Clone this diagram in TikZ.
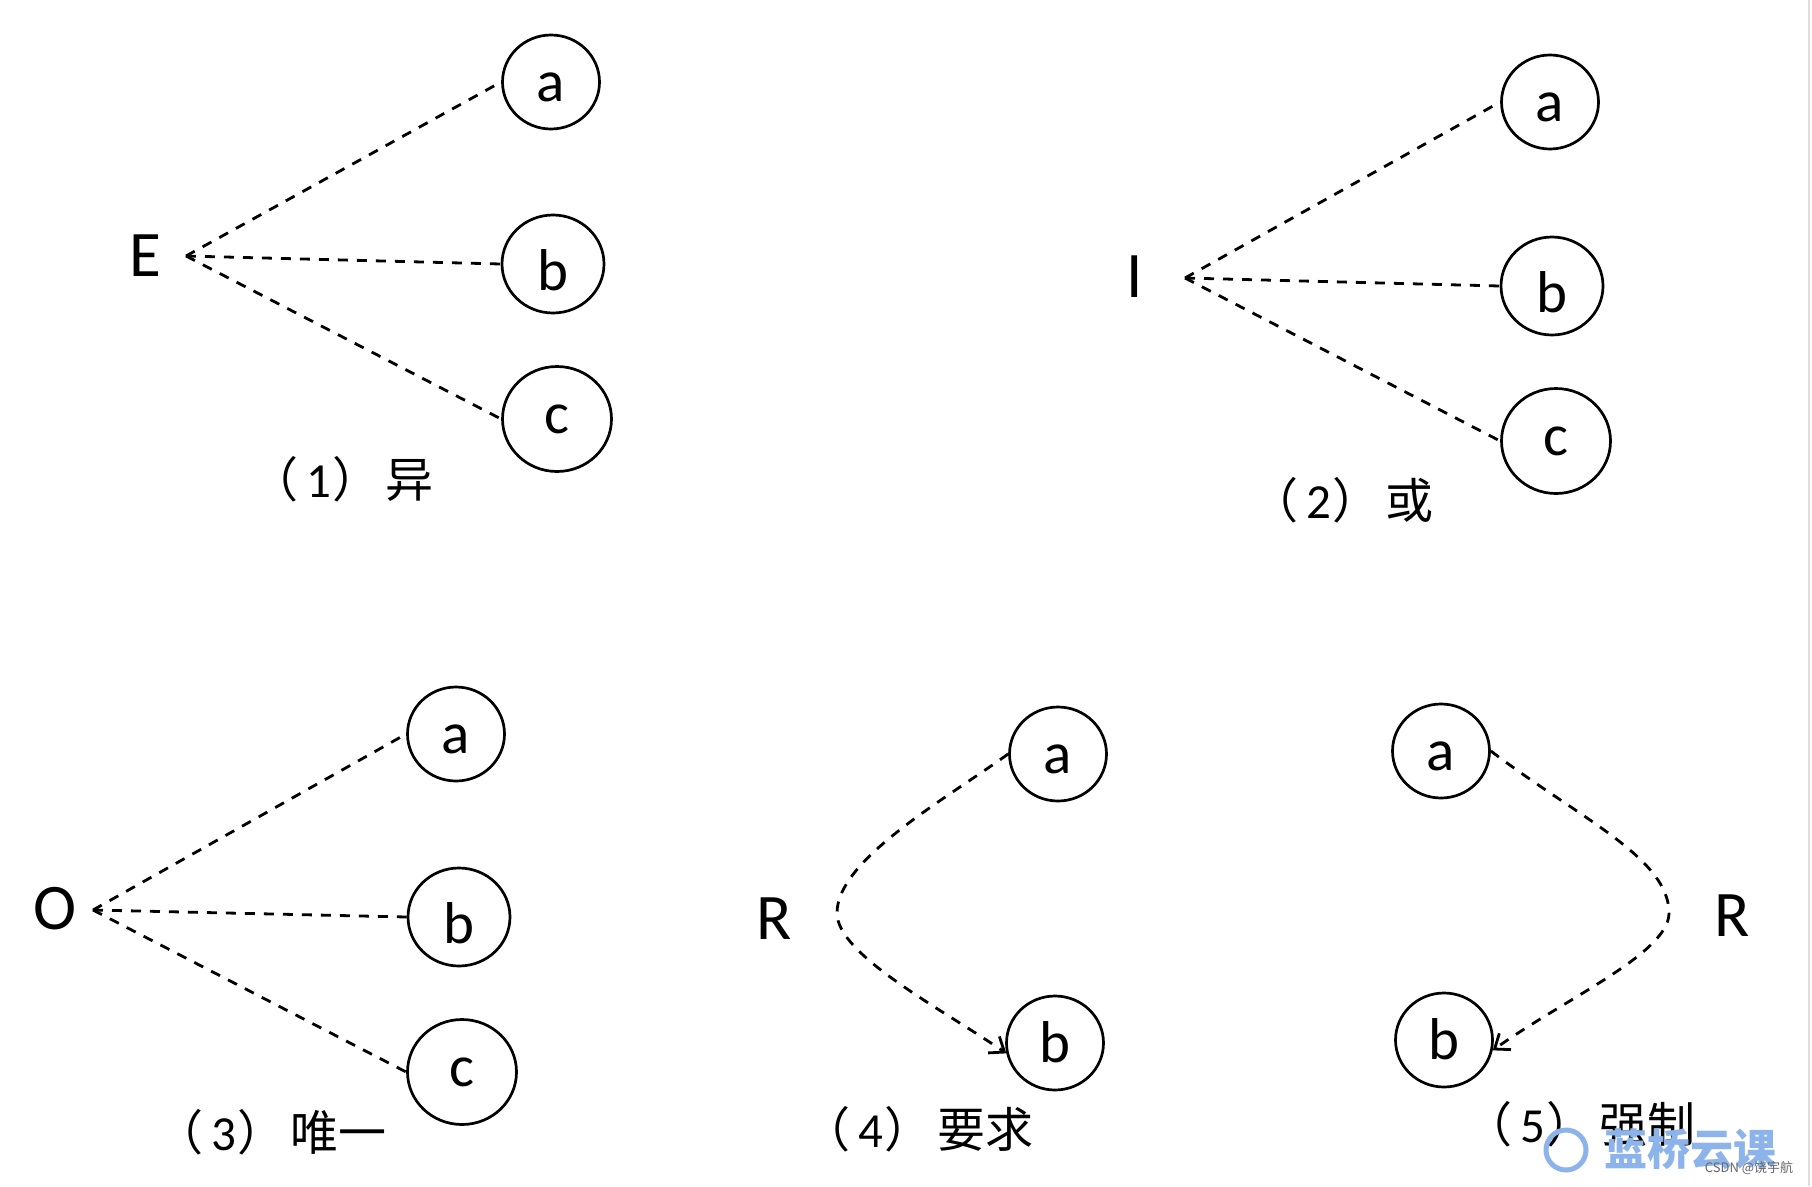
\documentclass[tikz,border=0pt]{standalone}
\usepackage{fontspec}
\setmainfont{Carlito}
\newfontfamily\cjk{Noto Sans CJK SC}
\usetikzlibrary{shapes.geometric,arrows.meta}
\definecolor{wmblue}{RGB}{140,180,235}
\newcommand{\capline}[2]{{\cjk\fontsize{48}{50}\selectfont （}\kern8pt#1\kern1pt{\cjk\fontsize{48}{50}\selectfont ）\kern5pt #2}}
\begin{document}
\begin{tikzpicture}[x=1pt,y=-1pt,
  every node/.style={inner sep=0pt},
  circ/.style={draw, ellipse, line width=2.7pt, inner sep=0pt, text depth=0pt, font=\fontsize{59}{60}\selectfont},
  sA/.style={minimum width=97pt, minimum height=94pt, text height=39pt},
  sB/.style={minimum width=102pt, minimum height=98pt, text height=52pt},
  sC/.style={minimum width=109pt, minimum height=105pt, text height=28pt},
  sD/.style={minimum width=97pt, minimum height=94pt, text height=38pt},
  biglab/.style={font=\fontsize{65}{66}\selectfont},
  capt/.style={anchor=base, font=\fontsize{49}{52}\selectfont},
  link/.style={line width=2.8pt, dash pattern=on 10pt off 9pt},
  arr/.style={link, -{Straight Barb[length=13pt,width=20pt]}},
]
\fill[white] (0,0) rectangle (1812,1186);
\useasboundingbox (0,0) rectangle (1812,1186);
\draw[gray!25, line width=1.5pt] (1809,0) -- (1809,1186);

% (1) E
\node[biglab] (E) at (145,256) {E};
\coordinate (oE) at (186,256);
\node[circ,sA] (E-a) at (551,82) {a};
\node[circ,sB] (E-b) at (553,264) {b};
\node[circ,sC] (E-c) at (557,419) {c};
\draw[link] (oE) -- (E-a.west);
\draw[link] (oE) -- (E-b.west);
\draw[link] (oE) -- (E-c.west);
\node[capt] (cap1) at (342,497) {\capline{1}{异}};

% (2) I
\node[biglab] (I) at (1135,277) {I};
\coordinate (oI) at (1185,278);
\node[circ,sA] (I-a) at (1550,102) {a};
\node[circ,sB] (I-b) at (1552,286) {b};
\node[circ,sC] (I-c) at (1556,441) {c};
\draw[link] (oI) -- (I-a.west);
\draw[link] (oI) -- (I-b.west);
\draw[link] (oI) -- (I-c.west);
\node[capt] (cap2) at (1342,518) {\capline{2}{或}};

% (3) O
\node[biglab] (O) at (55,909) {O};
\coordinate (oO) at (93,910);
\node[circ,sA] (O-a) at (456,734) {a};
\node[circ,sB] (O-b) at (459,917) {b};
\node[circ,sC] (O-c) at (462,1072) {c};
\draw[link] (oO) -- (O-a.west);
\draw[link] (oO) -- (O-b.west);
\draw[link] (oO) -- (O-c.west);
\node[capt] (cap3) at (271,1150) {\capline{3}{唯一}};

% (4) R requires
\node[biglab] (R4) at (774,919) {R};
\node[circ,sD] (R4-a) at (1058,754) {a};
\node[circ,sD] (R4-b) at (1055,1043) {b};
\coordinate (m4) at (837,913);
\draw[arr] (R4-a.west) .. controls (944,800) and (837,860) .. (m4)
  .. controls (837,955) and (942,1009) .. (R4-b.192);
\node[capt] (cap4) at (918,1147) {\capline{4}{要求}};

% (5) R mandatory
\node[circ,sD] (R5-a) at (1441,751) {a};
\node[circ,sD] (R5-b) at (1444,1040) {b};
\node[biglab] (R5) at (1732,916) {R};
\coordinate (m5) at (1669,913);
\draw[arr] (R5-a.east) .. controls (1579,818) and (1669,858) .. (m5)
  .. controls (1669,953) and (1566,998) .. (R5-b.-12);
\node[capt] (cap5) at (1580,1142) {\capline{5}{强制}};

% watermark
\node[draw=wmblue, circle, line width=5pt, minimum size=40pt] (logo) at (1566,1150) {};
\node[font=\cjk\bfseries\fontsize{43}{44}\selectfont, text=wmblue] (wm) at (1690,1149) {蓝桥云课};
\node[font=\cjk\fontsize{13}{14}\selectfont, text=black!60] (csdn) at (1749,1168) {CSDN @饶宇航};
\end{tikzpicture}
\end{document}
